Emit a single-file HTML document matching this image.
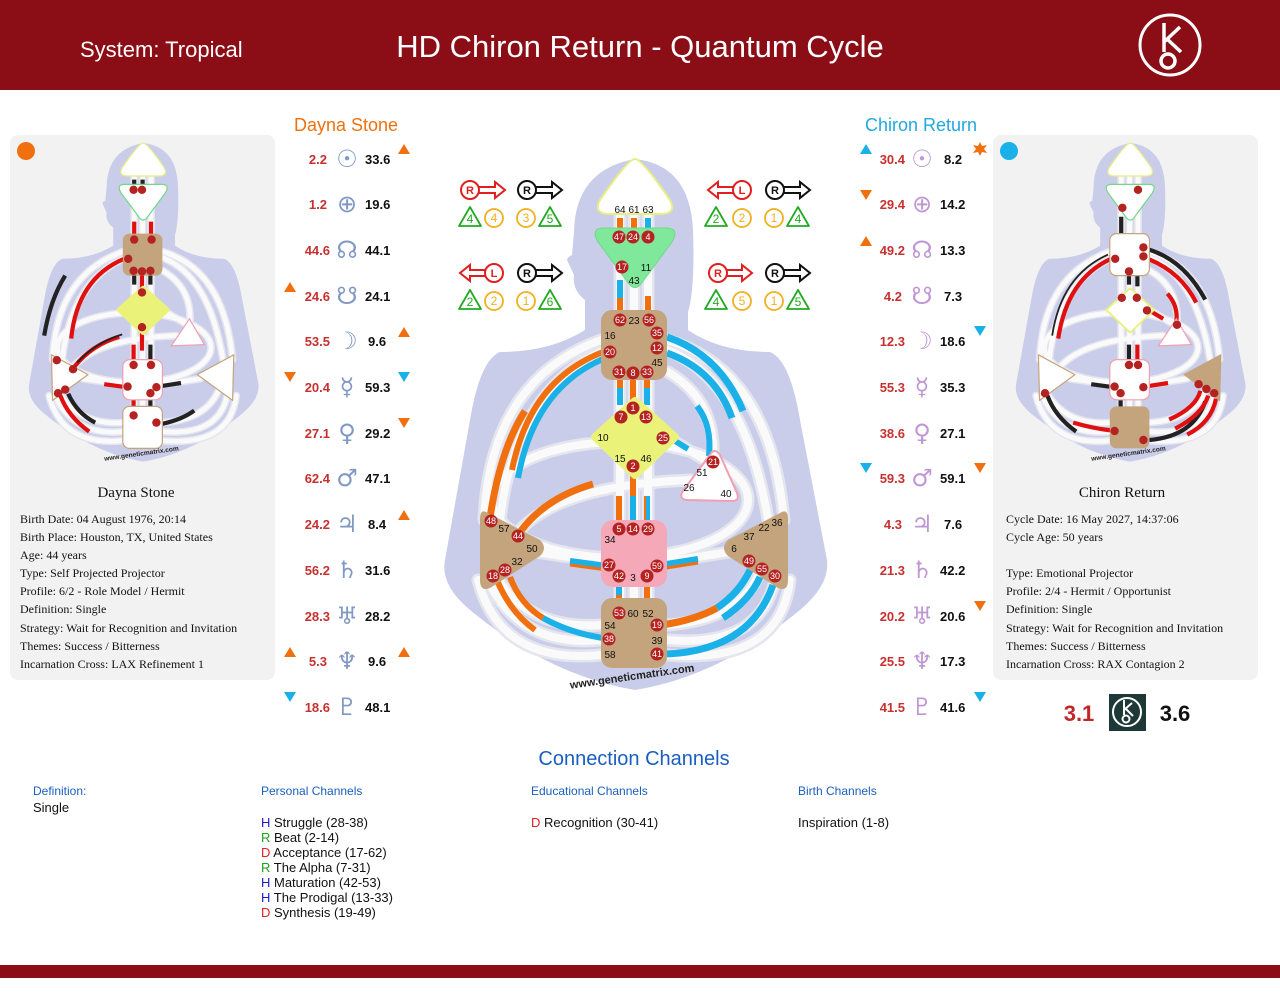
<!DOCTYPE html>
<html><head><meta charset="utf-8"><style>
html,body{margin:0;padding:0;background:#fff;}
svg{display:block;font-family:"Liberation Sans",sans-serif;}
.g{fill:#b52222;}
.gt{fill:#fff;font-size:9px;text-anchor:middle;}
.nt{fill:#111;font-size:10px;text-anchor:middle;}
.pr{fill:#c83030;font-size:13px;font-weight:bold;text-anchor:end;}
.pb{fill:#111;font-size:13px;font-weight:bold;}
.sy{font-family:"DejaVu Sans",sans-serif;font-size:24px;text-anchor:middle;}
.inf{font-family:"Liberation Serif",serif;font-size:12px;fill:#111;}
.ch{font-size:13px;fill:#111;}
</style></head><body>
<svg width="1280" height="1000" viewBox="0 0 1280 1000" xmlns="http://www.w3.org/2000/svg">
<defs>
<g id="geo">
 <path d="M585,312 L585,300 Q572,290 574,275 L568,262 Q565,258 572,255 L574,232 Q575,170 635,159 Q690,165 693,230 Q695,290 688,312 L688,330 Q720,352 770,352 Q790,360 800,420 L827,560 Q830,585 800,610 Q720,676 635,690 Q550,676 470,610 Q440,585 445,560 L470,420 Q480,360 500,352 Q550,352 585,330 Z" fill="#c9cdea"/>
 <g fill="none" stroke="#e4e5ee" stroke-width="13" stroke-linecap="round">
  <path d="M620,212 L620,600 M634,212 L634,600 M648,212 L648,600"/>
  <path d="M605,350 Q515,390 500,520 M601,340 Q490,380 484,520"/>
  <path d="M667,350 Q745,380 768,520 M667,340 Q770,370 784,520"/>
  <path d="M668,372 Q715,400 713,455"/>
  <path d="M672,440 L705,460"/>
  <ellipse cx="620" cy="500" rx="128" ry="58"/>
  <path d="M518,532 Q560,485 690,480"/>
  <path d="M535,552 L603,562 M665,562 L730,552"/>
  <path d="M601,625 Q530,630 497,578 M601,640 Q520,648 488,580 M601,655 Q500,665 478,580"/>
  <path d="M667,625 Q740,620 760,572 M667,640 Q760,648 775,580 M667,655 Q780,665 790,580"/>
 </g>
 <g fill="none" stroke="#fafafa" stroke-width="8" stroke-linecap="round">
  <path d="M620,212 L620,600 M634,212 L634,600 M648,212 L648,600"/>
  <path d="M605,350 Q515,390 500,520 M601,340 Q490,380 484,520"/>
  <path d="M667,350 Q745,380 768,520 M667,340 Q770,370 784,520"/>
  <path d="M668,372 Q715,400 713,455"/>
  <path d="M672,440 L705,460"/>
  <ellipse cx="620" cy="500" rx="128" ry="58"/>
  <path d="M518,532 Q560,485 690,480"/>
  <path d="M535,552 L603,562 M665,562 L730,552"/>
  <path d="M601,625 Q530,630 497,578 M601,640 Q520,648 488,580 M601,655 Q500,665 478,580"/>
  <path d="M667,625 Q740,620 760,572 M667,640 Q760,648 775,580 M667,655 Q780,665 790,580"/>
 </g>
</g>
</defs>

<rect x="0" y="0" width="1280" height="90" fill="#8b0e17"/>
<text x="80" y="57" fill="#fff" font-size="22">System: Tropical</text>
<text x="640" y="57" fill="#fff" font-size="31" text-anchor="middle">HD Chiron Return - Quantum Cycle</text>
<circle cx="1170" cy="45" r="30" fill="none" stroke="#fff" stroke-width="3"/>
<path d="M1164,23 L1164,52 M1164,42 L1180,27 M1166,38 L1181,52" stroke="#fff" stroke-width="3.5" fill="none"/>
<circle cx="1168" cy="61" r="7" fill="none" stroke="#fff" stroke-width="3.5"/>
<rect x="0" y="965" width="1280" height="13" fill="#8b0e17"/>

<rect x="10" y="135" width="265" height="545" rx="8" fill="#f2f2f2"/>
<rect x="993" y="135" width="265" height="545" rx="8" fill="#f2f2f2"/>
<circle cx="26" cy="151" r="9" fill="#f07010"/>
<circle cx="1009" cy="151" r="9" fill="#1ab0e8"/>

<text x="346" y="131" fill="#f07010" font-size="18" text-anchor="middle">Dayna Stone</text>
<text x="921" y="131" fill="#20a8e0" font-size="18" text-anchor="middle">Chiron Return</text>

<use href="#geo"/>
<g stroke-linecap="butt" fill="none" stroke-width="6">
 <path d="M620,218 L620,230 M634,218 L634,230" stroke="#f07010"/>
 <path d="M648,218 L648,230" stroke="#1ab0e8"/>
 <path d="M620,280 L620,300" stroke="#1ab0e8"/><path d="M620,298 L620,312" stroke="#f07010"/>
 <path d="M648,296 L648,312" stroke="#f07010"/>
 <path d="M620,378 L620,388 M633,378 L633,400 M647,378 L647,388" stroke="#f07010"/>
 <path d="M620,388 L620,405 M647,388 L647,405" stroke="#1ab0e8"/>
 <path d="M633,470 L633,518" stroke="#f07010"/>
 <path d="M619,496 L619,520" stroke="#f07010"/>
 <path d="M633,496 L633,520" stroke="#1ab0e8"/>
 <path d="M647,496 L647,520" stroke="#1ab0e8"/><path d="M645,496 L645,520" stroke="#f07010" stroke-width="2"/>
 <path d="M619,586 L619,595" stroke="#1ab0e8"/><path d="M619,595 L619,605" stroke="#f07010"/>
 <path d="M647,586 L647,598" stroke="#f07010"/>
 <path d="M490,518 Q500,450 525,411" stroke="#f07010" stroke-width="7"/>
 <path d="M608,357 Q535,385 518,478" stroke="#1ab0e8"/>
 <path d="M603,352 Q530,380 512,470" stroke="#f07010"/>
 <path d="M667,337 Q720,355 743,411" stroke="#1ab0e8" stroke-width="7"/>
 <path d="M667,353 Q715,370 732,418" stroke="#1ab0e8" stroke-width="7"/>
 <path d="M697,406 Q712,425 709,456" stroke="#1ab0e8"/>
 <path d="M672,439 L688,449" stroke="#1ab0e8"/>
 <path d="M520,532 Q545,498 593,484" stroke="#f07010" stroke-width="7"/>
 <path d="M570,561 L607,566" stroke="#1ab0e8"/><path d="M570,565 L607,570" stroke="#f07010" stroke-width="3"/>
 <path d="M660,565 L698,559" stroke="#1ab0e8"/><path d="M660,569 L698,563" stroke="#f07010" stroke-width="3"/>
 <path d="M497,580 Q510,612 535,630" stroke="#f07010"/>
 <path d="M510,577 Q520,604 543,618" stroke="#f07010"/>
 <path d="M543,618 Q570,633 603,638" stroke="#1ab0e8"/>
 <path d="M662,625 Q695,620 717,608" stroke="#f07010" stroke-width="7"/>
 <path d="M717,608 Q740,592 750,570" stroke="#1ab0e8" stroke-width="7"/>
 <path d="M723,618 Q750,600 760,577" stroke="#1ab0e8" stroke-width="7"/>
 <path d="M667,654 Q750,650 773,585" stroke="#1ab0e8" stroke-width="7"/>
</g>
<path d="M635,159 Q642,159 670,200 Q677,213 662,214 L608,214 Q593,213 600,200 Q628,159 635,159 Z" fill="#fff" stroke="#e8ee80" stroke-width="2"/>
<path d="M604,228 L666,228 Q680,228 672,242 L641,284 Q635,291 629,284 L598,242 Q590,228 604,228 Z" fill="#7fe89a" stroke="#70d888" stroke-width="1"/>
<rect x="601" y="310" width="66" height="70" rx="11" fill="#c4a47c"/>
<path d="M635,401 L675,437 L635,475 L595,437 Z" fill="#eaf27a" stroke="#eaf27a" stroke-width="8" stroke-linejoin="round"/>
<path d="M712,452 Q716,449 720,455 L737,493 Q740,501 732,501 L687,500 Q678,499 683,491 Z" fill="#fff" stroke="#f0a0b0" stroke-width="2"/>
<rect x="601" y="520" width="66" height="67" rx="12" fill="#f5a8b8"/>
<rect x="601" y="598" width="66" height="70" rx="11" fill="#c4a47c"/>
<path d="M486,512 L540,540 Q548,548 540,556 L490,588 Q480,592 480,580 L480,520 Q480,509 486,512 Z" fill="#c4a47c"/>
<path d="M782,512 L728,540 Q720,548 728,556 L778,588 Q788,592 788,580 L788,520 Q788,509 782,512 Z" fill="#c4a47c"/>
<g>
<text class="nt" x="620" y="213">64</text><text class="nt" x="634" y="213">61</text><text class="nt" x="648" y="213">63</text>
<circle class="g" cx="619" cy="237" r="6.5"/><text class="gt" x="619" y="240">47</text>
<circle class="g" cx="633" cy="237" r="6.5"/><text class="gt" x="633" y="240">24</text>
<circle class="g" cx="648" cy="237" r="6.5"/><text class="gt" x="648" y="240">4</text>
<circle class="g" cx="622" cy="267" r="6.5"/><text class="gt" x="622" y="270">17</text>
<text class="nt" x="646" y="271">11</text><text class="nt" x="634" y="284">43</text>
<circle class="g" cx="620" cy="320" r="6.5"/><text class="gt" x="620" y="323">62</text>
<text class="nt" x="634" y="324">23</text>
<circle class="g" cx="649" cy="320" r="6.5"/><text class="gt" x="649" y="323">56</text>
<text class="nt" x="610" y="339">16</text>
<circle class="g" cx="657" cy="333" r="6.5"/><text class="gt" x="657" y="336">35</text>
<circle class="g" cx="610" cy="352" r="6.5"/><text class="gt" x="610" y="355">20</text>
<circle class="g" cx="657" cy="348" r="6.5"/><text class="gt" x="657" y="351">12</text>
<text class="nt" x="657" y="366">45</text>
<circle class="g" cx="619" cy="372" r="6.5"/><text class="gt" x="619" y="375">31</text>
<circle class="g" cx="633" cy="373" r="6.5"/><text class="gt" x="633" y="376">8</text>
<circle class="g" cx="647" cy="372" r="6.5"/><text class="gt" x="647" y="375">33</text>
<circle class="g" cx="633" cy="408" r="6.5"/><text class="gt" x="633" y="411">1</text>
<circle class="g" cx="621" cy="417" r="6.5"/><text class="gt" x="621" y="420">7</text>
<circle class="g" cx="646" cy="417" r="6.5"/><text class="gt" x="646" y="420">13</text>
<text class="nt" x="603" y="441">10</text>
<circle class="g" cx="663" cy="438" r="6.5"/><text class="gt" x="663" y="441">25</text>
<text class="nt" x="620" y="462">15</text><text class="nt" x="646" y="462">46</text>
<circle class="g" cx="633" cy="466" r="6.5"/><text class="gt" x="633" y="469">2</text>
<circle class="g" cx="713" cy="462" r="6.5"/><text class="gt" x="713" y="465">21</text>
<text class="nt" x="702" y="476">51</text><text class="nt" x="689" y="491">26</text><text class="nt" x="726" y="497">40</text>
<circle class="g" cx="619" cy="529" r="6.5"/><text class="gt" x="619" y="532">5</text>
<circle class="g" cx="633" cy="529" r="6.5"/><text class="gt" x="633" y="532">14</text>
<circle class="g" cx="648" cy="529" r="6.5"/><text class="gt" x="648" y="532">29</text>
<text class="nt" x="610" y="543">34</text>
<circle class="g" cx="609" cy="565" r="6.5"/><text class="gt" x="609" y="568">27</text>
<circle class="g" cx="657" cy="566" r="6.5"/><text class="gt" x="657" y="569">59</text>
<circle class="g" cx="619" cy="576" r="6.5"/><text class="gt" x="619" y="579">42</text>
<text class="nt" x="633" y="581">3</text>
<circle class="g" cx="647" cy="576" r="6.5"/><text class="gt" x="647" y="579">9</text>
<circle class="g" cx="619" cy="613" r="6.5"/><text class="gt" x="619" y="616">53</text>
<text class="nt" x="633" y="617">60</text><text class="nt" x="648" y="617">52</text>
<text class="nt" x="610" y="629">54</text>
<circle class="g" cx="657" cy="625" r="6.5"/><text class="gt" x="657" y="628">19</text>
<circle class="g" cx="609" cy="639" r="6.5"/><text class="gt" x="609" y="642">38</text>
<text class="nt" x="657" y="644">39</text><text class="nt" x="610" y="658">58</text>
<circle class="g" cx="657" cy="654" r="6.5"/><text class="gt" x="657" y="657">41</text>
<circle class="g" cx="491" cy="521" r="6.5"/><text class="gt" x="491" y="524">48</text>
<text class="nt" x="504" y="532">57</text>
<circle class="g" cx="518" cy="536" r="6.5"/><text class="gt" x="518" y="539">44</text>
<text class="nt" x="532" y="552">50</text><text class="nt" x="517" y="565">32</text>
<circle class="g" cx="505" cy="570" r="6.5"/><text class="gt" x="505" y="573">28</text>
<circle class="g" cx="493" cy="576" r="6.5"/><text class="gt" x="493" y="579">18</text>
<text class="nt" x="777" y="526">36</text><text class="nt" x="764" y="531">22</text><text class="nt" x="749" y="540">37</text><text class="nt" x="734" y="552">6</text>
<circle class="g" cx="749" cy="561" r="6.5"/><text class="gt" x="749" y="564">49</text>
<circle class="g" cx="762" cy="569" r="6.5"/><text class="gt" x="762" y="572">55</text>
<circle class="g" cx="775" cy="576" r="6.5"/><text class="gt" x="775" y="579">30</text>
<text x="632" y="680" font-size="11" font-weight="bold" fill="#222" text-anchor="middle" transform="rotate(-8 632 676)">www.geneticmatrix.com</text>
</g>

<g fill="none" stroke-width="2" font-size="12" font-weight="bold">
 <g stroke="#e02020"><circle cx="470" cy="190" r="9"/><path d="M479,187 L495,187 L495,182 L505,190 L495,198 L495,193 L479,193"/></g>
 <text x="470" y="194" fill="#e02020" text-anchor="middle" font-size="11">R</text>
 <g stroke="#111"><circle cx="527" cy="190" r="9"/><path d="M536,187 L552,187 L552,182 L562,190 L552,198 L552,193 L536,193"/></g>
 <text x="527" y="194" fill="#111" text-anchor="middle" font-size="11">R</text>
 <g stroke="#e02020"><circle cx="494" cy="273" r="9"/><path d="M485,270 L470,270 L470,265 L460,273 L470,281 L470,276 L485,276"/></g>
 <text x="494" y="277" fill="#e02020" text-anchor="middle" font-size="11">L</text>
 <g stroke="#111"><circle cx="527" cy="273" r="9"/><path d="M536,270 L552,270 L552,265 L562,273 L552,281 L552,276 L536,276"/></g>
 <text x="527" y="277" fill="#111" text-anchor="middle" font-size="11">R</text>
 <g stroke="#e02020"><circle cx="742" cy="190" r="9"/><path d="M733,187 L718,187 L718,182 L708,190 L718,198 L718,193 L733,193"/></g>
 <text x="742" y="194" fill="#e02020" text-anchor="middle" font-size="11">L</text>
 <g stroke="#111"><circle cx="775" cy="190" r="9"/><path d="M784,187 L800,187 L800,182 L810,190 L800,198 L800,193 L784,193"/></g>
 <text x="775" y="194" fill="#111" text-anchor="middle" font-size="11">R</text>
 <g stroke="#e02020"><circle cx="718" cy="273" r="9"/><path d="M727,270 L742,270 L742,265 L752,273 L742,281 L742,276 L727,276"/></g>
 <text x="718" y="277" fill="#e02020" text-anchor="middle" font-size="11">R</text>
 <g stroke="#111"><circle cx="775" cy="273" r="9"/><path d="M784,270 L800,270 L800,265 L810,273 L800,281 L800,276 L784,276"/></g>
 <text x="775" y="277" fill="#111" text-anchor="middle" font-size="11">R</text>
</g>
<g fill="none" stroke-width="1.8" font-size="12" text-anchor="middle">
 <path d="M470,207 L481,226 L459,226 Z" stroke="#22aa22" stroke-linejoin="round"/><text x="470" y="223" fill="#22aa22" stroke="none">4</text>
 <circle cx="494" cy="218" r="9" stroke="#f0b020"/><text x="494" y="222" fill="#f0b020" stroke="none">4</text>
 <circle cx="526" cy="218" r="9" stroke="#f0b020"/><text x="526" y="222" fill="#f0b020" stroke="none">3</text>
 <path d="M550,207 L561,226 L539,226 Z" stroke="#22aa22" stroke-linejoin="round"/><text x="550" y="223" fill="#22aa22" stroke="none">5</text>
 <path d="M470,290 L481,309 L459,309 Z" stroke="#22aa22" stroke-linejoin="round"/><text x="470" y="306" fill="#22aa22" stroke="none">2</text>
 <circle cx="494" cy="301" r="9" stroke="#f0b020"/><text x="494" y="305" fill="#f0b020" stroke="none">2</text>
 <circle cx="526" cy="301" r="9" stroke="#f0b020"/><text x="526" y="305" fill="#f0b020" stroke="none">1</text>
 <path d="M550,290 L561,309 L539,309 Z" stroke="#22aa22" stroke-linejoin="round"/><text x="550" y="306" fill="#22aa22" stroke="none">6</text>
 <path d="M716,207 L727,226 L705,226 Z" stroke="#22aa22" stroke-linejoin="round"/><text x="716" y="223" fill="#22aa22" stroke="none">2</text>
 <circle cx="742" cy="218" r="9" stroke="#f0b020"/><text x="742" y="222" fill="#f0b020" stroke="none">2</text>
 <circle cx="774" cy="218" r="9" stroke="#f0b020"/><text x="774" y="222" fill="#f0b020" stroke="none">1</text>
 <path d="M798,207 L809,226 L787,226 Z" stroke="#22aa22" stroke-linejoin="round"/><text x="798" y="223" fill="#22aa22" stroke="none">4</text>
 <path d="M716,290 L727,309 L705,309 Z" stroke="#22aa22" stroke-linejoin="round"/><text x="716" y="306" fill="#22aa22" stroke="none">4</text>
 <circle cx="742" cy="301" r="9" stroke="#f0b020"/><text x="742" y="305" fill="#f0b020" stroke="none">5</text>
 <circle cx="774" cy="301" r="9" stroke="#f0b020"/><text x="774" y="305" fill="#f0b020" stroke="none">1</text>
 <path d="M798,290 L809,309 L787,309 Z" stroke="#22aa22" stroke-linejoin="round"/><text x="798" y="306" fill="#22aa22" stroke="none">5</text>
</g>

<g transform="translate(-237.8,47.6) scale(0.6)">
 <use href="#geo"/>
 <g fill="none" stroke-width="7">
  <path d="M603,352 Q525,385 515,485" stroke="#e01010"/>
  <path d="M470,480 Q480,420 505,380" stroke="#222"/>
  <path d="M520,532 Q550,495 595,482" stroke="#e01010"/>
  <path d="M525,525 Q555,492 600,478" stroke="#222" stroke-width="3"/>
  <path d="M570,561 L607,566" stroke="#e01010"/><path d="M660,565 L698,559" stroke="#222"/>
  <path d="M497,580 Q510,615 545,640" stroke="#e01010"/><path d="M510,577 Q525,610 555,625" stroke="#222"/>
  <path d="M667,627 Q700,620 720,605" stroke="#222"/>
  <path d="M620,290 L620,312 M648,290 L648,312 M633,378 L633,405 M633,470 L633,505 M619,495 L619,520 M619,585 L619,605" stroke="#e01010"/>
  <path d="M620,378 L620,395 M647,378 L647,395 M647,495 L647,520 M647,585 L647,600 M620,220 L620,230 M634,220 L634,230" stroke="#222"/>
 </g>
 <path d="M635,159 Q642,159 670,200 Q677,213 662,214 L608,214 Q593,213 600,200 Q628,159 635,159 Z" fill="#fff" stroke="#e8ee80" stroke-width="2"/>
 <path d="M604,228 L666,228 Q680,228 672,242 L641,284 Q635,291 629,284 L598,242 Q590,228 604,228 Z" fill="#fff" stroke="#70d888" stroke-width="2"/>
 <rect x="601" y="310" width="66" height="70" rx="11" fill="#c4a47c"/>
 <path d="M635,401 L675,437 L635,475 L595,437 Z" fill="#eaf27a" stroke="#eaf27a" stroke-width="8" stroke-linejoin="round"/>
 <path d="M712,452 L737,495 L682,497 Z" fill="#fff" stroke="#f0a0b0" stroke-width="2"/>
 <rect x="601" y="520" width="66" height="67" rx="12" fill="#fff" stroke="#f0a0b0" stroke-width="2"/>
 <rect x="601" y="598" width="66" height="70" rx="11" fill="#fff" stroke="#c4a47c" stroke-width="2"/>
 <path d="M482,512 L543,545 L484,588 Z" fill="#fff" stroke="#c4a47c" stroke-width="2" stroke-linejoin="round"/>
 <path d="M786,512 L725,545 L784,588 Z" fill="#fff" stroke="#c4a47c" stroke-width="2" stroke-linejoin="round"/>
 <g class="g"><circle cx="619" cy="237" r="7"/><circle cx="633" cy="237" r="7"/><circle cx="620" cy="320" r="7"/><circle cx="649" cy="320" r="7"/><circle cx="610" cy="352" r="7"/><circle cx="619" cy="372" r="7"/><circle cx="633" cy="373" r="7"/><circle cx="647" cy="372" r="7"/><circle cx="633" cy="408" r="7"/><circle cx="633" cy="466" r="7"/><circle cx="619" cy="529" r="7"/><circle cx="648" cy="529" r="7"/><circle cx="609" cy="565" r="7"/><circle cx="657" cy="566" r="7"/><circle cx="647" cy="576" r="7"/><circle cx="619" cy="613" r="7"/><circle cx="657" cy="625" r="7"/><circle cx="491" cy="521" r="7"/><circle cx="518" cy="536" r="7"/><circle cx="505" cy="570" r="7"/><circle cx="493" cy="576" r="7"/></g>
 <text x="632" y="680" font-size="11" font-weight="bold" fill="#222" text-anchor="middle" transform="rotate(-8 632 676)">www.geneticmatrix.com</text>
</g>

<g transform="translate(749.2,47.6) scale(0.6)">
 <use href="#geo"/>
 <g fill="none" stroke-width="7">
  <path d="M603,352 Q530,385 515,485" stroke="#e01010"/>
  <path d="M598,345 Q520,380 505,480" stroke="#222" stroke-width="3"/>
  <path d="M667,337 Q725,355 760,420" stroke="#222"/>
  <path d="M667,353 Q720,375 745,425" stroke="#e01010"/>
  <path d="M697,410 Q715,430 712,456" stroke="#e01010"/>
  <path d="M670,440 L690,452" stroke="#e01010"/>
  <path d="M620,282 L620,312 M633,378 L633,395 M647,378 L647,398 M633,495 L633,520 M619,585 L619,600" stroke="#222"/>
  <path d="M647,495 L647,520" stroke="#e01010"/>
  <path d="M570,561 L607,566" stroke="#222"/><path d="M660,565 L698,559" stroke="#e01010"/>
  <path d="M497,580 Q510,615 545,640" stroke="#222"/>
  <path d="M540,625 Q575,635 603,638" stroke="#e01010"/>
  <path d="M667,654 Q740,648 760,590" stroke="#222"/>
  <path d="M700,620 Q745,600 752,572" stroke="#e01010"/>
  <path d="M710,635 Q755,612 765,580" stroke="#e01010"/>
  <path d="M730,645 Q770,625 778,585" stroke="#e01010"/>
 </g>
 <path d="M635,159 Q642,159 670,200 Q677,213 662,214 L608,214 Q593,213 600,200 Q628,159 635,159 Z" fill="#fff" stroke="#e8ee80" stroke-width="2"/>
 <path d="M604,228 L666,228 Q680,228 672,242 L641,284 Q635,291 629,284 L598,242 Q590,228 604,228 Z" fill="#fff" stroke="#70d888" stroke-width="2"/>
 <rect x="601" y="310" width="66" height="70" rx="11" fill="#fff" stroke="#c4a47c" stroke-width="2"/>
 <path d="M635,401 L675,437 L635,475 L595,437 Z" fill="#fff" stroke="#eaf27a" stroke-width="3" stroke-linejoin="round"/>
 <path d="M712,452 L737,495 L682,497 Z" fill="#fff" stroke="#f0a0b0" stroke-width="2"/>
 <rect x="601" y="520" width="66" height="67" rx="12" fill="#fff" stroke="#f0a0b0" stroke-width="2"/>
 <rect x="601" y="598" width="66" height="70" rx="11" fill="#c4a47c"/>
 <path d="M482,512 L543,545 L484,588 Z" fill="#fff" stroke="#c4a47c" stroke-width="2" stroke-linejoin="round"/>
 <path d="M786,512 L725,545 L784,588 Z" fill="#c4a47c" stroke="#c4a47c" stroke-width="2" stroke-linejoin="round"/>
 <g class="g"><circle cx="648" cy="237" r="7"/><circle cx="622" cy="267" r="7"/><circle cx="657" cy="333" r="7"/><circle cx="657" cy="348" r="7"/><circle cx="610" cy="352" r="7"/><circle cx="633" cy="373" r="7"/><circle cx="621" cy="417" r="7"/><circle cx="646" cy="417" r="7"/><circle cx="663" cy="438" r="7"/><circle cx="713" cy="462" r="7"/><circle cx="633" cy="529" r="7"/><circle cx="648" cy="529" r="7"/><circle cx="609" cy="565" r="7"/><circle cx="657" cy="566" r="7"/><circle cx="619" cy="576" r="7"/><circle cx="609" cy="639" r="7"/><circle cx="657" cy="654" r="7"/><circle cx="493" cy="576" r="7"/><circle cx="749" cy="561" r="7"/><circle cx="762" cy="569" r="7"/><circle cx="775" cy="576" r="7"/></g>
 <text x="632" y="680" font-size="11" font-weight="bold" fill="#222" text-anchor="middle" transform="rotate(-8 632 676)">www.geneticmatrix.com</text>
</g>

<text x="136" y="497" font-family="Liberation Serif, serif" font-size="15" text-anchor="middle" fill="#111">Dayna Stone</text>
<g class="inf">
<text x="20" y="523">Birth Date: 04 August 1976, 20:14</text>
<text x="20" y="541">Birth Place: Houston, TX, United States</text>
<text x="20" y="559">Age: 44 years</text>
<text x="20" y="577">Type: Self Projected Projector</text>
<text x="20" y="595">Profile: 6/2 - Role Model / Hermit</text>
<text x="20" y="613">Definition: Single</text>
<text x="20" y="632">Strategy: Wait for Recognition and Invitation</text>
<text x="20" y="650">Themes: Success / Bitterness</text>
<text x="20" y="668">Incarnation Cross: LAX Refinement 1</text>
</g>
<text x="1122" y="497" font-family="Liberation Serif, serif" font-size="15" text-anchor="middle" fill="#111">Chiron Return</text>
<g class="inf">
<text x="1006" y="523">Cycle Date: 16 May 2027, 14:37:06</text>
<text x="1006" y="541">Cycle Age: 50 years</text>
<text x="1006" y="577">Type: Emotional Projector</text>
<text x="1006" y="595">Profile: 2/4 - Hermit / Opportunist</text>
<text x="1006" y="613">Definition: Single</text>
<text x="1006" y="632">Strategy: Wait for Recognition and Invitation</text>
<text x="1006" y="650">Themes: Success / Bitterness</text>
<text x="1006" y="668">Incarnation Cross: RAX Contagion 2</text>
</g>

<g>
<text class="pr" x="327" y="164">2.2</text><text class="sy" x="347" y="167" fill="#7f98c4">☉</text><text class="pb" x="365" y="164">33.6</text>
<text class="pr" x="327" y="209">1.2</text><text class="sy" x="347" y="212" fill="#7f98c4">⊕</text><text class="pb" x="365" y="209">19.6</text>
<text class="pr" x="330" y="255">44.6</text><text class="sy" x="347" y="258" fill="#7f98c4">☊</text><text class="pb" x="365" y="255">44.1</text>
<text class="pr" x="330" y="301">24.6</text><text class="sy" x="347" y="304" fill="#7f98c4">☋</text><text class="pb" x="365" y="301">24.1</text>
<text class="pr" x="330" y="346">53.5</text><text class="sy" x="347" y="349" fill="#7f98c4">☽</text><text class="pb" x="368" y="346">9.6</text>
<text class="pr" x="330" y="392">20.4</text><text class="sy" x="347" y="395" fill="#7f98c4">☿</text><text class="pb" x="365" y="392">59.3</text>
<text class="pr" x="330" y="438">27.1</text><text class="sy" x="347" y="441" fill="#7f98c4">♀</text><text class="pb" x="365" y="438">29.2</text>
<text class="pr" x="330" y="483">62.4</text><text class="sy" x="347" y="486" fill="#7f98c4">♂</text><text class="pb" x="365" y="483">47.1</text>
<text class="pr" x="330" y="529">24.2</text><text class="sy" x="347" y="532" fill="#7f98c4">♃</text><text class="pb" x="368" y="529">8.4</text>
<text class="pr" x="330" y="575">56.2</text><text class="sy" x="347" y="578" fill="#7f98c4">♄</text><text class="pb" x="365" y="575">31.6</text>
<text class="pr" x="330" y="621">28.3</text><text class="sy" x="347" y="624" fill="#7f98c4">♅</text><text class="pb" x="365" y="621">28.2</text>
<text class="pr" x="327" y="666">5.3</text><text class="sy" x="347" y="669" fill="#7f98c4">♆</text><text class="pb" x="368" y="666">9.6</text>
<text class="pr" x="330" y="712">18.6</text><text class="sy" x="347" y="715" fill="#7f98c4">♇</text><text class="pb" x="365" y="712">48.1</text>
</g>
<g>
<text class="pr" x="905" y="164">30.4</text><text class="sy" x="922" y="167" fill="#c096d4">☉</text><text class="pb" x="944" y="164">8.2</text>
<text class="pr" x="905" y="209">29.4</text><text class="sy" x="922" y="212" fill="#c096d4">⊕</text><text class="pb" x="940" y="209">14.2</text>
<text class="pr" x="905" y="255">49.2</text><text class="sy" x="922" y="258" fill="#c096d4">☊</text><text class="pb" x="940" y="255">13.3</text>
<text class="pr" x="902" y="301">4.2</text><text class="sy" x="922" y="304" fill="#c096d4">☋</text><text class="pb" x="944" y="301">7.3</text>
<text class="pr" x="905" y="346">12.3</text><text class="sy" x="922" y="349" fill="#c096d4">☽</text><text class="pb" x="940" y="346">18.6</text>
<text class="pr" x="905" y="392">55.3</text><text class="sy" x="922" y="395" fill="#c096d4">☿</text><text class="pb" x="940" y="392">35.3</text>
<text class="pr" x="905" y="438">38.6</text><text class="sy" x="922" y="441" fill="#c096d4">♀</text><text class="pb" x="940" y="438">27.1</text>
<text class="pr" x="905" y="483">59.3</text><text class="sy" x="922" y="486" fill="#c096d4">♂</text><text class="pb" x="940" y="483">59.1</text>
<text class="pr" x="902" y="529">4.3</text><text class="sy" x="922" y="532" fill="#c096d4">♃</text><text class="pb" x="944" y="529">7.6</text>
<text class="pr" x="905" y="575">21.3</text><text class="sy" x="922" y="578" fill="#c096d4">♄</text><text class="pb" x="940" y="575">42.2</text>
<text class="pr" x="905" y="621">20.2</text><text class="sy" x="922" y="624" fill="#c096d4">♅</text><text class="pb" x="940" y="621">20.6</text>
<text class="pr" x="905" y="666">25.5</text><text class="sy" x="922" y="669" fill="#c096d4">♆</text><text class="pb" x="940" y="666">17.3</text>
<text class="pr" x="905" y="712">41.5</text><text class="sy" x="922" y="715" fill="#c096d4">♇</text><text class="pb" x="940" y="712">41.6</text>
</g>
<g fill="#f07010">
<path d="M398,154 L410,154 L404,144 Z"/><path d="M284,292 L296,292 L290,282 Z"/><path d="M398,337 L410,337 L404,327 Z"/>
<path d="M284,372 L296,372 L290,382 Z"/><path d="M398,418 L410,418 L404,428 Z"/><path d="M398,520 L410,520 L404,510 Z"/>
<path d="M284,657 L296,657 L290,647 Z"/><path d="M398,657 L410,657 L404,647 Z"/>
<path d="M860,190 L872,190 L866,200 Z"/><path d="M860,246 L872,246 L866,236 Z"/>
<path d="M974,463 L986,463 L980,473 Z"/><path d="M974,601 L986,601 L980,611 Z"/>
<path d="M980,142 L982,146 L987,145 L984,149 L987,153 L982,152 L980,156 L978,152 L973,153 L976,149 L973,145 L978,146 Z"/>
</g>
<g fill="#1ab0e8">
<path d="M398,372 L410,372 L404,382 Z"/><path d="M284,692 L296,692 L290,702 Z"/>
<path d="M860,154 L872,154 L866,144 Z"/><path d="M974,326 L986,326 L980,336 Z"/>
<path d="M860,463 L872,463 L866,473 Z"/><path d="M974,692 L986,692 L980,702 Z"/>
</g>

<text x="1079" y="721" fill="#c02828" font-size="22" font-weight="bold" text-anchor="middle">3.1</text>
<rect x="1109" y="694" width="37" height="37" fill="#1e3838"/>
<circle cx="1127" cy="712" r="14" fill="none" stroke="#fff" stroke-width="2"/>
<path d="M1124,700 L1124,715 M1124,710 L1132,703 M1125,708 L1133,716" stroke="#fff" stroke-width="2" fill="none"/>
<circle cx="1126" cy="719" r="3.5" fill="none" stroke="#fff" stroke-width="2"/>
<text x="1175" y="721" fill="#111" font-size="22" font-weight="bold" text-anchor="middle">3.6</text>

<text x="634" y="765" fill="#1a5fc0" font-size="20" text-anchor="middle">Connection Channels</text>
<g font-size="12" fill="#1a5fc0">
<text x="33" y="795">Definition:</text><text x="261" y="795">Personal Channels</text>
<text x="531" y="795">Educational Channels</text><text x="798" y="795">Birth Channels</text>
</g>
<g class="ch">
<text x="33" y="812">Single</text>
<text x="261" y="827"><tspan fill="#1a1ad0">H</tspan> Struggle (28-38)</text>
<text x="261" y="842"><tspan fill="#20a020">R</tspan> Beat (2-14)</text>
<text x="261" y="857"><tspan fill="#e02020">D</tspan> Acceptance (17-62)</text>
<text x="261" y="872"><tspan fill="#20a020">R</tspan> The Alpha (7-31)</text>
<text x="261" y="887"><tspan fill="#1a1ad0">H</tspan> Maturation (42-53)</text>
<text x="261" y="902"><tspan fill="#1a1ad0">H</tspan> The Prodigal (13-33)</text>
<text x="261" y="917"><tspan fill="#e02020">D</tspan> Synthesis (19-49)</text>
<text x="531" y="827"><tspan fill="#e02020">D</tspan> Recognition (30-41)</text>
<text x="798" y="827">Inspiration (1-8)</text>
</g>
</svg>
</body></html>
